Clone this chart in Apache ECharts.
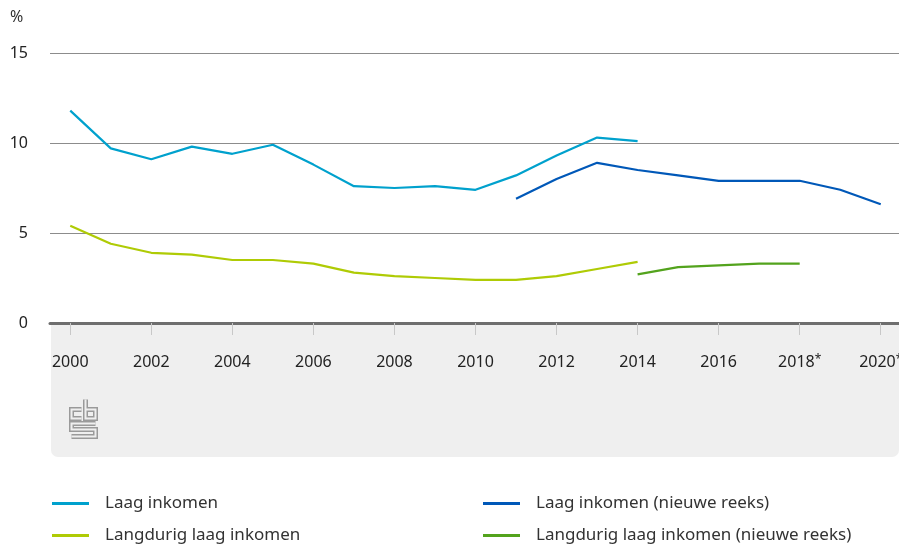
<!DOCTYPE html>
<html>
<head>
<meta charset="utf-8">
<script src="https://cdn.jsdelivr.net/npm/echarts@6/dist/echarts.min.js"></script>
<style>html,body{margin:0;padding:0;background:#fff}#c{width:899px;height:545px}</style>
</head>
<body>
<div id="c"></div>
<script>
const years = ['2000','2001','2002','2003','2004','2005','2006','2007','2008','2009','2010','2011','2012','2013','2014','2015','2016','2017','2018*','2019*','2020*'];
const laagInkomen = [11.8, 9.7, 9.1, 9.8, 9.4, 9.9, 8.8, 7.6, 7.5, 7.6, 7.4, 8.2, 9.3, 10.3, 10.1, null, null, null, null, null, null];
const laagInkomenNieuw = [null, null, null, null, null, null, null, null, null, null, null, 6.9, 8.0, 8.9, 8.5, 8.2, 7.9, 7.9, 7.9, 7.4, 6.6];
const langdurig = [5.4, 4.4, 3.9, 3.8, 3.5, 3.5, 3.3, 2.8, 2.6, 2.5, 2.4, 2.4, 2.6, 3.0, 3.4, null, null, null, null, null, null];
const langdurigNieuw = [null, null, null, null, null, null, null, null, null, null, null, null, null, null, 2.7, 3.1, 3.2, 3.3, 3.3, null, null];
const yTicks = [0, 5, 10, 15];
const seriesNames = ['Laag inkomen', 'Langdurig laag inkomen', 'Laag inkomen (nieuwe reeks)', 'Langdurig laag inkomen (nieuwe reeks)'];

const FONT = 'Noto Sans';
const BG = '#efefef';
const chart = echarts.init(document.getElementById('c'), null, {renderer: 'canvas'});

function mk(name, data, color) {
  return {name, type: 'line', data, symbol: 'none', connectNulls: false,
    lineStyle: {color, width: 2.2}, itemStyle: {color}, z: 5};
}
function lg(id, name, left, top) {
  return {id, show: true, orient: 'horizontal', align: 'left', left, top,
    itemWidth: 37, itemHeight: 3, icon: 'rect', padding: 0, itemGap: 0,
    textStyle: {fontSize: 17, color: '#333', fontFamily: FONT, padding: [0, 0, 0, 11]},
    data: [name]};
}

const logoOuter = {stroke: '#9a9a9a', lineWidth: 5, fill: null, lineJoin: 'miter', lineCap: 'butt'};
const logoInner = {stroke: BG, lineWidth: 2, fill: null, lineJoin: 'miter', lineCap: 'butt'};
const logoPaths = [
  [[12,11],[2,11],[2,20],[12,20]],
  [[16,1],[16,20],[26,20],[26,11],[16,11]],
  [[26,25],[2,25],[2,31],[26,31],[26,38],[2,38]]
];
const logoEls = [];
logoPaths.forEach(p => logoEls.push({type: 'polyline', shape: {points: p}, style: logoOuter}));
logoPaths.forEach(p => logoEls.push({type: 'polyline', shape: {points: p}, style: logoInner}));

chart.setOption({
  animation: false,
  textStyle: {fontFamily: FONT},
  graphic: [
    {type: 'rect', left: 51, top: 323, z: -10, shape: {width: 848, height: 134, r: [0, 0, 7, 7]}, style: {fill: BG}},
    {type: 'text', left: 10, top: 9, style: {text: '%', fontSize: 16, fontFamily: FONT, fill: '#333'}},
    {type: 'group', left: 69, top: 397, z: -5, children: logoEls}
  ],
  grid: {left: 50, top: 53, width: 851, height: 270, containLabel: false, outerBoundsMode: 'none'},
  legend: [
    lg('l0', seriesNames[0], 52, 495),
    lg('l1', seriesNames[1], 52, 527),
    lg('l2', seriesNames[2], 483, 495),
    lg('l3', seriesNames[3], 483, 527)
  ],
  xAxis: {
    type: 'category', data: years, boundaryGap: true,
    axisLine: {show: true, lineStyle: {color: '#6e6e6e', width: 3}},
    axisTick: {show: true, interval: 1, alignWithLabel: true, length: 12, lineStyle: {color: '#c8c8c8', width: 1}},
    axisLabel: {interval: 1, margin: 31, fontSize: 16, color: '#222', fontFamily: FONT,
      formatter: v => v.endsWith('*') ? v.slice(0, -1) + '{s|*}' : v,
      rich: {s: {fontSize: 12, color: '#222', fontFamily: FONT, verticalAlign: 'top', padding: [0, 0, 4, 0]}}},
    splitLine: {show: false}
  },
  yAxis: {
    type: 'value', min: 0, max: 15, interval: 5,
    axisLine: {show: false}, axisTick: {show: false},
    axisLabel: {margin: 22, fontSize: 16, color: '#222', fontFamily: FONT,
      formatter: v => yTicks.includes(v) ? String(v) : ''},
    splitLine: {show: true, lineStyle: {color: '#8c8c8c', width: 1}}
  },
  series: [
    mk(seriesNames[0], laagInkomen, '#00a1cd'),
    mk(seriesNames[1], langdurig, '#afcb05'),
    mk(seriesNames[2], laagInkomenNieuw, '#0058b8'),
    mk(seriesNames[3], langdurigNieuw, '#53a31d')
  ]
});
</script>
</body>
</html>
